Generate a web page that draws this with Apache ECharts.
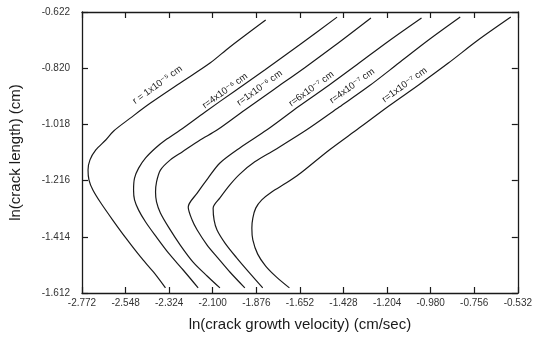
<!DOCTYPE html>
<html>
<head>
<meta charset="utf-8">
<script src="https://cdn.jsdelivr.net/npm/echarts@6/dist/echarts.min.js"></script>
<style>
html,body{margin:0;padding:0;background:#fff;}
#chart{width:535px;height:343px;}
</style>
</head>
<body>
<div id="chart"></div>
<script>
// Tick labels
const xTicks = [-2.772, -2.548, -2.324, -2.100, -1.876, -1.652, -1.428, -1.204, -0.980, -0.756, -0.532];
const yTicks = [-1.612, -1.414, -1.216, -1.018, -0.820, -0.622];

// Curve names (r values)
const curveNames = ['r = 1x10⁻⁵ cm', 'r=4x10⁻⁶ cm', 'r=1x10⁻⁶ cm', 'r=6x10⁻⁷ cm', 'r=4x10⁻⁷ cm', 'r=1x10⁻⁷ cm'];

// Curves: [ln(velocity), ln(length)]
const c1 = [[-2.343,-1.594],[-2.405,-1.538],[-2.471,-1.485],[-2.547,-1.418],[-2.614,-1.355],[-2.675,-1.295],[-2.716,-1.249],[-2.736,-1.214],[-2.741,-1.179],[-2.731,-1.143],[-2.701,-1.108],[-2.650,-1.073],[-2.609,-1.041],[-2.522,-0.995],[-2.420,-0.943],[-2.267,-0.872],[-2.114,-0.802],[-2.012,-0.745],[-1.828,-0.650]];
const c2 = [[-2.175,-1.594],[-2.252,-1.531],[-2.328,-1.471],[-2.394,-1.411],[-2.445,-1.362],[-2.481,-1.320],[-2.502,-1.284],[-2.507,-1.249],[-2.502,-1.207],[-2.481,-1.172],[-2.445,-1.136],[-2.394,-1.101],[-2.343,-1.073],[-2.267,-1.038],[-2.139,-0.974],[-1.986,-0.900],[-1.833,-0.826],[-1.655,-0.738],[-1.461,-0.640]];
const c3 = [[-2.063,-1.594],[-2.129,-1.552],[-2.201,-1.503],[-2.267,-1.443],[-2.328,-1.379],[-2.369,-1.330],[-2.389,-1.291],[-2.394,-1.256],[-2.389,-1.221],[-2.369,-1.179],[-2.318,-1.143],[-2.257,-1.115],[-2.165,-1.073],[-2.078,-1.038],[-1.935,-0.967],[-1.782,-0.893],[-1.629,-0.819],[-1.476,-0.742],[-1.287,-0.643]];
const c4 = [[-1.935,-1.594],[-2.012,-1.538],[-2.073,-1.489],[-2.129,-1.443],[-2.180,-1.390],[-2.206,-1.355],[-2.226,-1.309],[-2.180,-1.260],[-2.124,-1.207],[-2.063,-1.154],[-1.961,-1.101],[-1.823,-1.038],[-1.655,-0.953],[-1.501,-0.879],[-1.348,-0.802],[-1.195,-0.724],[-1.027,-0.643]];
const c5 = [[-1.843,-1.594],[-1.910,-1.542],[-1.976,-1.489],[-2.037,-1.436],[-2.078,-1.390],[-2.093,-1.355],[-2.098,-1.313],[-2.063,-1.277],[-2.012,-1.231],[-1.961,-1.193],[-1.884,-1.150],[-1.782,-1.108],[-1.619,-1.038],[-1.450,-0.957],[-1.297,-0.883],[-1.144,-0.802],[-0.991,-0.721],[-0.828,-0.640]];
const c6 = [[-1.706,-1.594],[-1.772,-1.556],[-1.828,-1.517],[-1.869,-1.475],[-1.894,-1.425],[-1.899,-1.383],[-1.894,-1.348],[-1.879,-1.313],[-1.848,-1.284],[-1.797,-1.256],[-1.721,-1.224],[-1.655,-1.193],[-1.501,-1.108],[-1.348,-1.031],[-1.195,-0.953],[-1.042,-0.879],[-0.889,-0.802],[-0.736,-0.721],[-0.568,-0.640]];
const curves = [c1, c2, c3, c4, c5, c6];

// Annotation anchor points for the curve labels (data space)
const labelAnchors = [[-2.384,-0.879],[-2.037,-0.900],[-1.859,-0.890],[-1.593,-0.893],[-1.384,-0.883],[-1.114,-0.879]];

const FONT = '"Liberation Sans", "DejaVu Sans", sans-serif';
const INK = '#1a1a1a';

const chart = echarts.init(document.getElementById('chart'), null, {renderer: 'canvas'});

const baseX = {
  type: 'value', min: -2.772, max: -0.532,
  splitLine: {show: false},
  axisLine: {show: true, onZero: false, lineStyle: {color: INK, width: 1.3}},
  axisTick: {show: true, inside: true, length: 6, customValues: xTicks, lineStyle: {color: INK, width: 1.2}}
};
const baseY = {
  type: 'value', min: -1.612, max: -0.622,
  splitLine: {show: false},
  axisLine: {show: true, onZero: false, lineStyle: {color: INK, width: 1.3}},
  axisTick: {show: true, inside: true, length: 6, customValues: yTicks, lineStyle: {color: INK, width: 1.2}}
};

const series = curves.map((c, i) => ({
  type: 'line',
  name: curveNames[i],
  data: c,
  xAxisIndex: 0, yAxisIndex: 0,
  showSymbol: false,
  smooth: 0.3,
  lineStyle: {color: INK, width: 1.2},
  silent: true,
  markPoint: {
    symbol: 'circle', symbolSize: 0,
    data: [{coord: labelAnchors[i], value: curveNames[i]}],
    label: {
      show: true, position: 'inside', rotate: 36,
      formatter: curveNames[i],
      fontFamily: FONT, fontSize: 9.5, color: INK
    }
  }
}));

chart.setOption({
  animation: false,
  backgroundColor: '#fff',
  grid: {left: 81, right: 15, top: 12, bottom: 50, containLabel: false},
  xAxis: [
    Object.assign({}, baseX, {
      position: 'bottom',
      name: 'ln(crack growth velocity) (cm/sec)',
      nameLocation: 'middle', nameGap: 24,
      nameTextStyle: {fontFamily: FONT, fontSize: 15, color: INK},
      axisLabel: {show: true, customValues: xTicks, margin: 5, fontFamily: FONT, fontSize: 10, color: '#333',
        formatter: v => v.toFixed(3)}
    }),
    Object.assign({}, baseX, {position: 'top', axisLabel: {show: false}})
  ],
  yAxis: [
    Object.assign({}, baseY, {
      position: 'left',
      name: 'ln(crack length) (cm)',
      nameLocation: 'middle', nameGap: 59,
      nameTextStyle: {fontFamily: FONT, fontSize: 15, color: INK},
      axisLabel: {show: true, customValues: yTicks, margin: 12, fontFamily: FONT, fontSize: 10, color: '#333',
        formatter: v => v.toFixed(3)}
    }),
    Object.assign({}, baseY, {position: 'right', axisLabel: {show: false}})
  ],
  series: series
});
</script>
</body>
</html>
